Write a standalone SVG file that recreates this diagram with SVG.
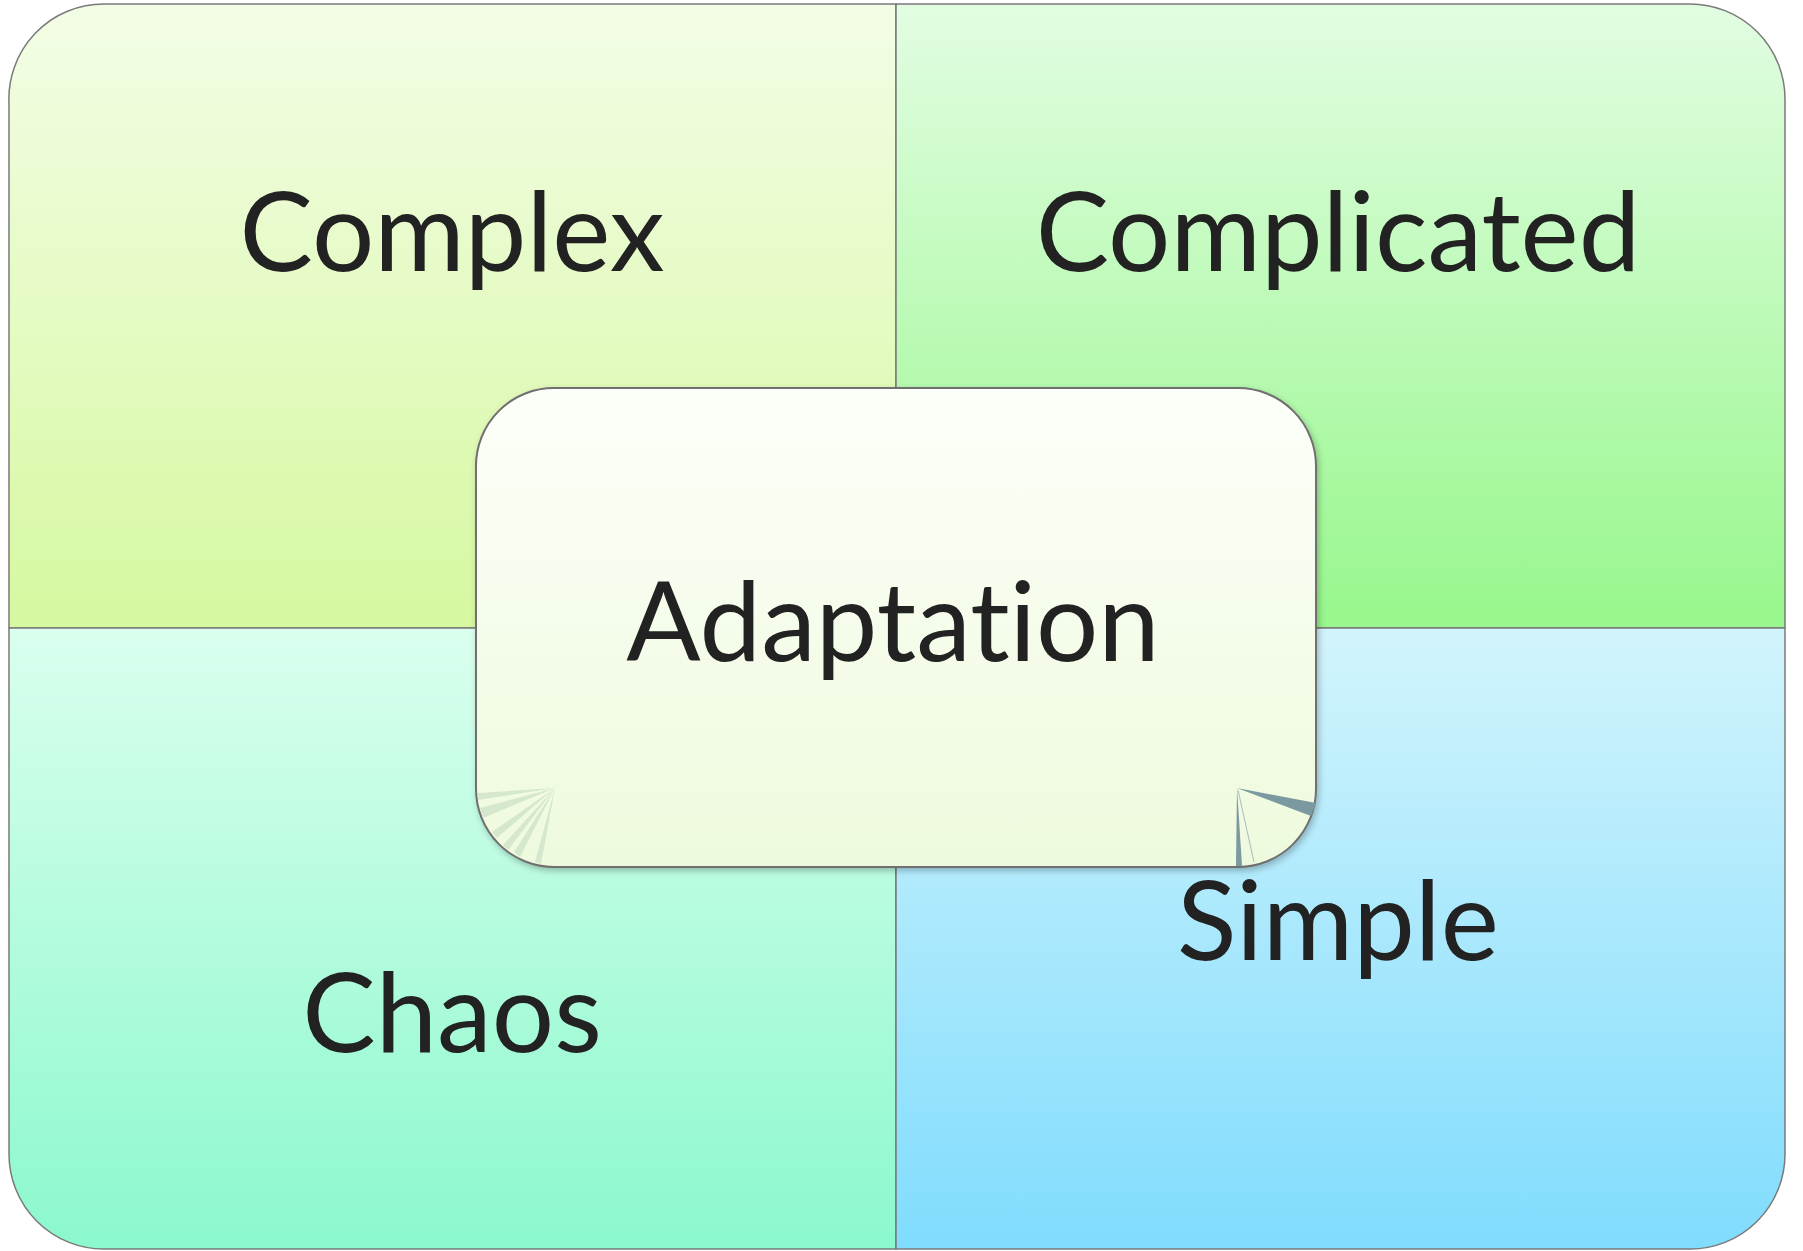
<svg xmlns="http://www.w3.org/2000/svg" width="1803" height="1251" viewBox="0 0 1803 1251">
<defs>
<linearGradient id="gTL" x1="0" y1="0" x2="0" y2="1"><stop offset="0" stop-color="#f3fde6"/><stop offset="1" stop-color="#d6f8a0"/></linearGradient>
<linearGradient id="gTR" x1="0" y1="0" x2="0" y2="1"><stop offset="0" stop-color="#e2fde2"/><stop offset="1" stop-color="#97f78c"/></linearGradient>
<linearGradient id="gBL" x1="0" y1="0" x2="0" y2="1"><stop offset="0" stop-color="#daffee"/><stop offset="1" stop-color="#8bf8cd"/></linearGradient>
<linearGradient id="gBR" x1="0" y1="0" x2="0" y2="1"><stop offset="0" stop-color="#d2f4fc"/><stop offset="1" stop-color="#80dcfd"/></linearGradient>
<linearGradient id="gC" x1="0" y1="0" x2="0" y2="1"><stop offset="0" stop-color="#fcfff9"/><stop offset="1" stop-color="#eefadd"/></linearGradient>
<filter id="sh" x="-5%" y="-5%" width="110%" height="110%"><feDropShadow dx="2" dy="3" stdDeviation="3" flood-color="#000" flood-opacity="0.25"/></filter>
</defs>
<style>
.q{stroke:#7a7a7a;stroke-width:1.5}
.t{font-family:Lato,"Open Sans",sans-serif;font-size:110px;fill:#222;text-anchor:middle;font-variant-ligatures:none;font-feature-settings:"liga" 0}
</style>
<g id="complex"><path class="q" d="M9,628 V104 A95,95 0 0 1 104,4 H896 V628 Z" fill="url(#gTL)"/><text class="t" x="452" y="271">Complex</text></g>
<g id="complicated"><path class="q" d="M896,4 H1690 A95,95 0 0 1 1785,99 V628 H896 Z" fill="url(#gTR)"/><text class="t" x="1338" y="271">Complicated</text></g>
<g id="chaos"><path class="q" d="M9,628 H896 V1249 H104 A95,95 0 0 1 9,1154 Z" fill="url(#gBL)"/><text class="t" x="452" y="1052">Chaos</text></g>
<g id="simple"><path class="q" d="M896,628 H1785 V1154 A95,95 0 0 1 1690,1249 H896 Z" fill="url(#gBR)"/><text class="t" x="1338" y="960">Simple</text></g>
<g id="adaptation">
<rect x="476" y="388" width="840" height="479" rx="78" ry="78" fill="url(#gC)" stroke="#6f6f6f" stroke-width="2" filter="url(#sh)"/>
<g fill="#cfe3c8" opacity="0.8">
<polygon points="555,788 478,793 478,800"/>
<polygon points="555,788 480,808 483,818"/>
<polygon points="555,788 492,832 497,838"/>
<polygon points="555,788 503,845 508,850"/>
<polygon points="555,788 514,852 520,857"/>
<polygon points="555,788 535,862 541,864"/>
</g>
<polygon points="1237,788 1316,803 1311,816" fill="#7c98a0"/>
<polygon points="1237,788 1242,866 1236,866" fill="#7c98a0"/>
<line x1="1238" y1="790" x2="1254" y2="862" stroke="#a9bcc0" stroke-width="1"/>
<text class="t" x="893" y="661">Adaptation</text>
</g>
</svg>
